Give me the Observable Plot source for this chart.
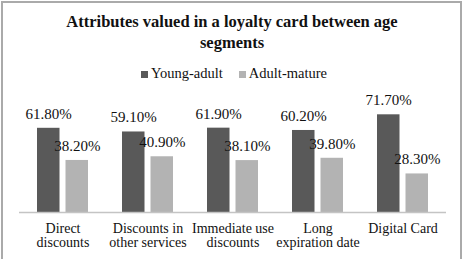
<!DOCTYPE html>
<html>
<head>
<meta charset="utf-8">
<script src="https://cdn.jsdelivr.net/npm/d3@7"></script>
<script src="https://cdn.jsdelivr.net/npm/@observablehq/plot@0.6"></script>
<style>
  html, body { margin: 0; padding: 0; background: #fff; }
  #wrap { position: relative; width: 466px; height: 259px; overflow: hidden; font-family: "Liberation Serif", "Times New Roman", serif; color: #111; }
  #border { position: absolute; left: 1px; top: 1px; width: 461px; height: 262px; box-sizing: border-box; border: 2px solid #aaa; }
  #title { position: absolute; left: 0; top: 11px; width: 464px; text-align: center; font-weight: bold; font-size: 16.5px; line-height: 21px; }
  #legend { position: absolute; left: 0; top: 65px; width: 468px; display: flex; justify-content: center; font-size: 14.5px; line-height: 16px; }
  .item { display: flex; align-items: baseline; margin: 0 8px; }
  .sw { display: inline-block; width: 7px; height: 7px; margin-right: 3px; }
  #chart { position: absolute; left: 0; top: 88px; }
</style>
</head>
<body>
<div id="wrap">
  <div id="border"></div>
  <div id="title">Attributes valued in a loyalty card between age<br>segments</div>
  <div id="legend"></div>
  <div id="chart"></div>
</div>
<script>
const categories = ["Direct\ndiscounts", "Discounts in\nother services", "Immediate use\ndiscounts", "Long\nexpiration date", "Digital Card"];
const seriesNames = ["Young-adult", "Adult-mature"];
const youngAdult = [61.8, 59.1, 61.9, 60.2, 71.7];
const adultMature = [38.2, 40.9, 38.1, 39.8, 28.3];
const colors = ["#595959", "#b3b3b3"];

const young = categories.map((c, i) => ({category: c, value: youngAdult[i]}));
const adult = categories.map((c, i) => ({category: c, value: adultMature[i]}));
const fmt = d => d.value.toFixed(2) + "%";

// legend
const legend = document.getElementById("legend");
seriesNames.forEach((s, i) => {
  const it = document.createElement("span");
  it.className = "item";
  it.innerHTML = `<span class="sw" style="background:${colors[i]}"></span><span>${s}</span>`;
  legend.appendChild(it);
});

const inset = 28.5;
const chart = Plot.plot({
  width: 466,
  height: 171,
  marginLeft: 19,
  marginRight: 20,
  marginTop: 15,
  marginBottom: 47,
  style: {fontFamily: "Liberation Serif, Times New Roman, serif", color: "#111", background: "transparent"},
  x: {domain: categories, paddingInner: 0.4, paddingOuter: 0.2, label: null},
  y: {domain: [0, 80], axis: null},
  marks: [
    Plot.barY(young, {x: "category", y: "value", fill: colors[0], insetRight: inset}),
    Plot.barY(adult, {x: "category", y: "value", fill: colors[1], insetLeft: inset}),
    Plot.ruleY([0], {stroke: "#c4c4c4", strokeWidth: 1.5}),
    Plot.text(young, {x: "category", y: "value", text: fmt, dx: -14.3, dy: -9.5, lineAnchor: "bottom", fontSize: 15, fill: "#111"}),
    Plot.text(adult, {x: "category", y: "value", text: fmt, dx: 14.3, dy: -9.5, lineAnchor: "bottom", fontSize: 15, fill: "#111"}),
    Plot.axisX({anchor: "bottom", tickSize: 0, tickPadding: 10, fontSize: 14, lineHeight: 1.03, label: null, fill: "#111"})
  ]
});
document.getElementById("chart").appendChild(chart);
</script>
</body>
</html>
